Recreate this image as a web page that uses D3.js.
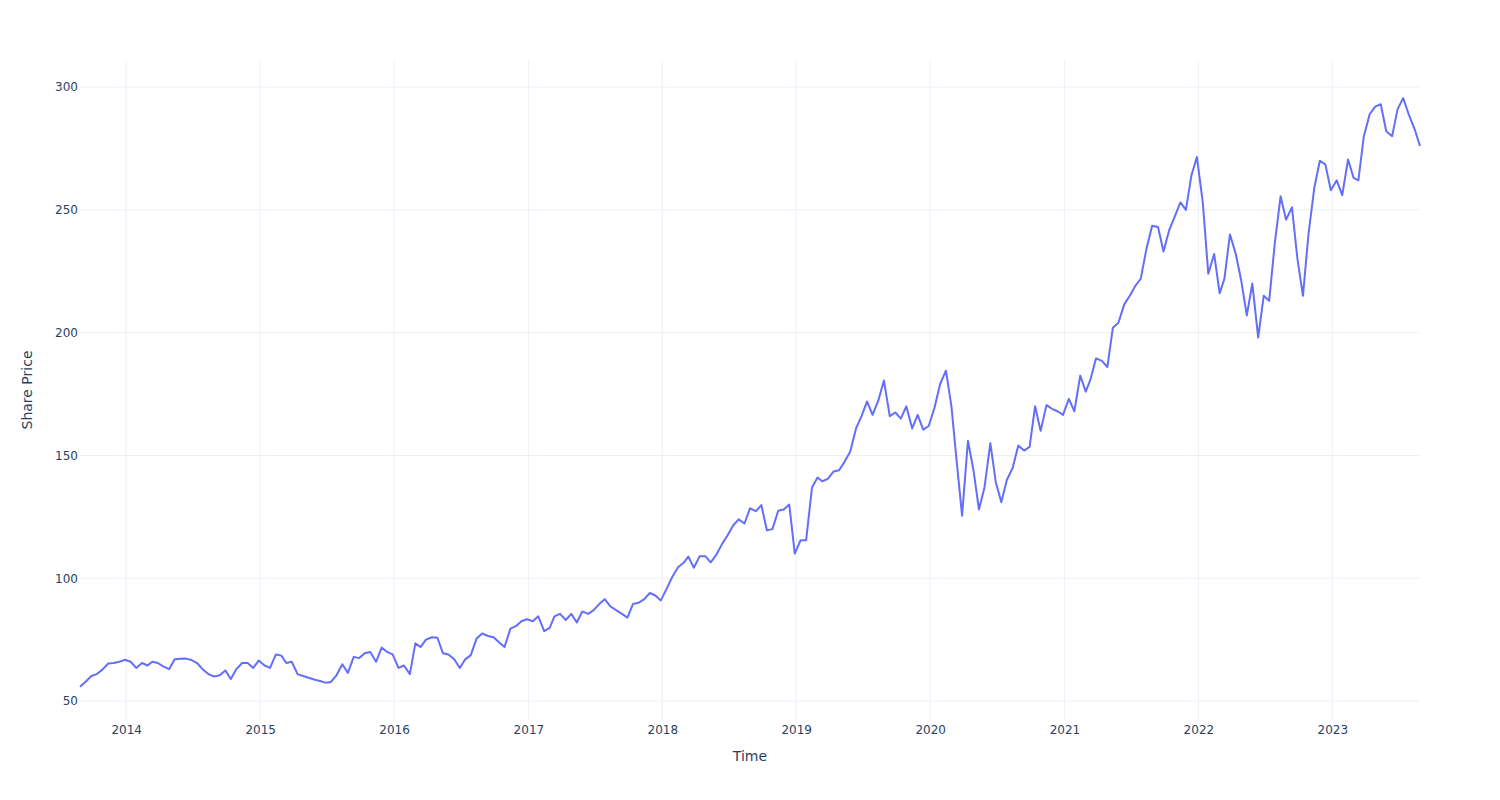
<!DOCTYPE html>
<html>
<head>
<meta charset="utf-8">
<script src="https://cdn.jsdelivr.net/npm/d3@7"></script>
<style>
    body { margin: 0; background: #fff; }
    svg { display: block; font-family: "DejaVu Sans", Verdana, sans-serif; }
</style>
</head>
<body>
<svg id="chart" width="1500" height="800"></svg>
<script>
// share price, two readings a month (13th and 28th)
// 2013 starts on 28 Aug, 2023 stops on 28 Aug
const prices2013 = [55.8, 58.0, 60.2, 61.0, 62.8, 65.3, 65.5, 66.0, 66.8];
const prices2014 = [66.0, 63.5, 65.5, 64.5, 66.0, 65.5, 64.0, 63.0, 67.0, 67.2, 67.3, 66.7,
    65.5, 63.0, 61.0, 60.0, 60.5, 62.5, 59.0, 63.0, 65.5, 65.5, 63.5, 66.5];
const prices2015 = [64.5, 63.5, 69.0, 68.5, 65.5, 66.0, 61.0, 60.2, 59.5, 58.8, 58.2, 57.5,
    57.8, 60.5, 65.0, 61.5, 68.0, 67.5, 69.5, 70.0, 66.0, 71.8, 70.0, 69.0];
const prices2016 = [63.5, 64.5, 61.0, 73.5, 72.0, 75.0, 76.0, 75.8, 69.5, 69.0, 67.0, 63.5,
    67.0, 68.7, 75.5, 77.5, 76.5, 76.0, 74.0, 72.0, 79.5, 80.5, 82.5, 83.3];
const prices2017 = [82.5, 84.5, 78.5, 79.8, 84.5, 85.5, 83.0, 85.5, 82.0, 86.5, 85.5, 87.0,
    89.5, 91.5, 88.5, 87.0, 85.5, 84.0, 89.5, 90.0, 91.5, 94.0, 93.0, 91.0];
const prices2018 = [95.8, 100.5, 104.5, 106.3, 108.8, 104.3, 109.0, 109.0, 106.5, 109.5, 114.0, 117.5,
    121.5, 124.0, 122.3, 128.5, 127.3, 129.8, 119.5, 120.0, 127.5, 128.0, 130.0, 110.0];
const prices2019 = [115.5, 115.5, 137.0, 141.0, 139.5, 140.5, 143.5, 144.0, 147.5, 151.5, 161.0, 166.0,
    172.0, 166.5, 172.5, 180.5, 166.0, 167.5, 165.0, 170.0, 161.0, 166.5, 160.5, 162.0];
const prices2020 = [169.5, 179.0, 184.5, 170.0, 148.0, 125.5, 156.0, 144.0, 128.0, 137.0, 155.0, 139.0,
    131.0, 140.0, 145.0, 154.0, 152.0, 153.5, 170.0, 160.0, 170.5, 169.0, 168.0, 166.5];
const prices2021 = [173.0, 168.0, 182.5, 176.0, 181.0, 189.5, 188.5, 186.0, 202.0, 204.0, 211.5, 215.0,
    219.0, 222.0, 234.5, 243.5, 243.0, 233.0, 241.5, 247.0, 253.0, 250.0, 264.0, 271.5];
const prices2022 = [253.0, 224.0, 232.0, 216.0, 222.0, 240.0, 232.0, 221.0, 207.0, 220.0, 198.0, 215.0,
    213.0, 236.0, 255.5, 246.0, 251.0, 230.0, 215.0, 240.0, 259.0, 270.0, 268.5, 258.0];
const prices2023 = [262.0, 256.0, 270.5, 263.0, 262.0, 280.0, 289.0, 292.0, 293.0, 282.0, 280.0, 291.0,
    295.5, 289.0, 283.0, 276.0];

const years = [2013, 2014, 2015, 2016, 2017, 2018, 2019, 2020, 2021, 2022, 2023];
const yearPrices = [prices2013, prices2014, prices2015, prices2016, prices2017, prices2018,
    prices2019, prices2020, prices2021, prices2022, prices2023];
const firstSlot = {2013: 15}; // 2013 begins at the second half of August

const yTicks = [50, 100, 150, 200, 250, 300];

let data = [];
for (let i = 0; i < years.length; i++) {
    let start = firstSlot[years[i]] || 0;
    for (let j = 0; j < yearPrices[i].length; j++) {
        let slot = start + j;
        data.push({
            date: new Date(years[i], Math.floor(slot / 2), slot % 2 ? 28 : 13),
            price: yearPrices[i][j]
        });
    }
}

let svg = d3.select("#chart"),
    margin = {top: 60, right: 80, bottom: 80, left: 80},
    width = +svg.attr("width") - margin.left - margin.right,
    height = +svg.attr("height") - margin.top - margin.bottom,
    g = svg.append("g").attr("transform", "translate(" + margin.left + "," + margin.top + ")");

let x = d3.scaleTime()
    .domain(d3.extent(data, function (d) { return d.date; }))
    .range([0, width]);

let y = d3.scaleLinear()
    .domain([42.3, 311])
    .range([height, 0]);

let xTicks = x.ticks(d3.timeYear.every(1));

// grid
g.append("g")
    .selectAll("line")
    .data(xTicks)
    .enter().append("line")
    .attr("x1", function (d) { return x(d); })
    .attr("x2", function (d) { return x(d); })
    .attr("y1", 0)
    .attr("y2", height)
    .attr("stroke", "#ebf0f8")
    .attr("stroke-width", 1);

g.append("g")
    .selectAll("line")
    .data(yTicks)
    .enter().append("line")
    .attr("x1", 0)
    .attr("x2", width)
    .attr("y1", function (d) { return y(d); })
    .attr("y2", function (d) { return y(d); })
    .attr("stroke", "#ebf0f8")
    .attr("stroke-width", 1);

// axes
let xAxis = g.append("g")
    .attr("transform", "translate(0," + height + ")")
    .call(d3.axisBottom(x).tickValues(xTicks).tickFormat(d3.timeFormat("%Y")).tickSize(0).tickPadding(5));

let yAxis = g.append("g")
    .call(d3.axisLeft(y).tickValues(yTicks).tickSize(0).tickPadding(2));

[xAxis, yAxis].forEach(function (a) {
    a.select(".domain").remove();
    a.selectAll("text")
        .attr("fill", "#2a3f5f")
        .attr("font-size", 12)
        .attr("font-family", "DejaVu Sans, Verdana, sans-serif");
});

// price line
g.append("path")
    .datum(data)
    .attr("fill", "none")
    .attr("stroke", "#636efa")
    .attr("stroke-width", 2)
    .attr("stroke-linejoin", "round")
    .attr("d", d3.line()
        .x(function (d) { return x(d.date); })
        .y(function (d) { return y(d.price); }));

// axis titles
svg.append("text")
    .attr("x", margin.left + width / 2)
    .attr("y", 761)
    .attr("text-anchor", "middle")
    .attr("fill", "#2a3f5f")
    .attr("font-size", 14)
    .text("Time");

svg.append("text")
    .attr("transform", "translate(32," + (margin.top + height / 2) + ") rotate(-90)")
    .attr("text-anchor", "middle")
    .attr("fill", "#2a3f5f")
    .attr("font-size", 14)
    .text("Share Price");
</script>
</body>
</html>
